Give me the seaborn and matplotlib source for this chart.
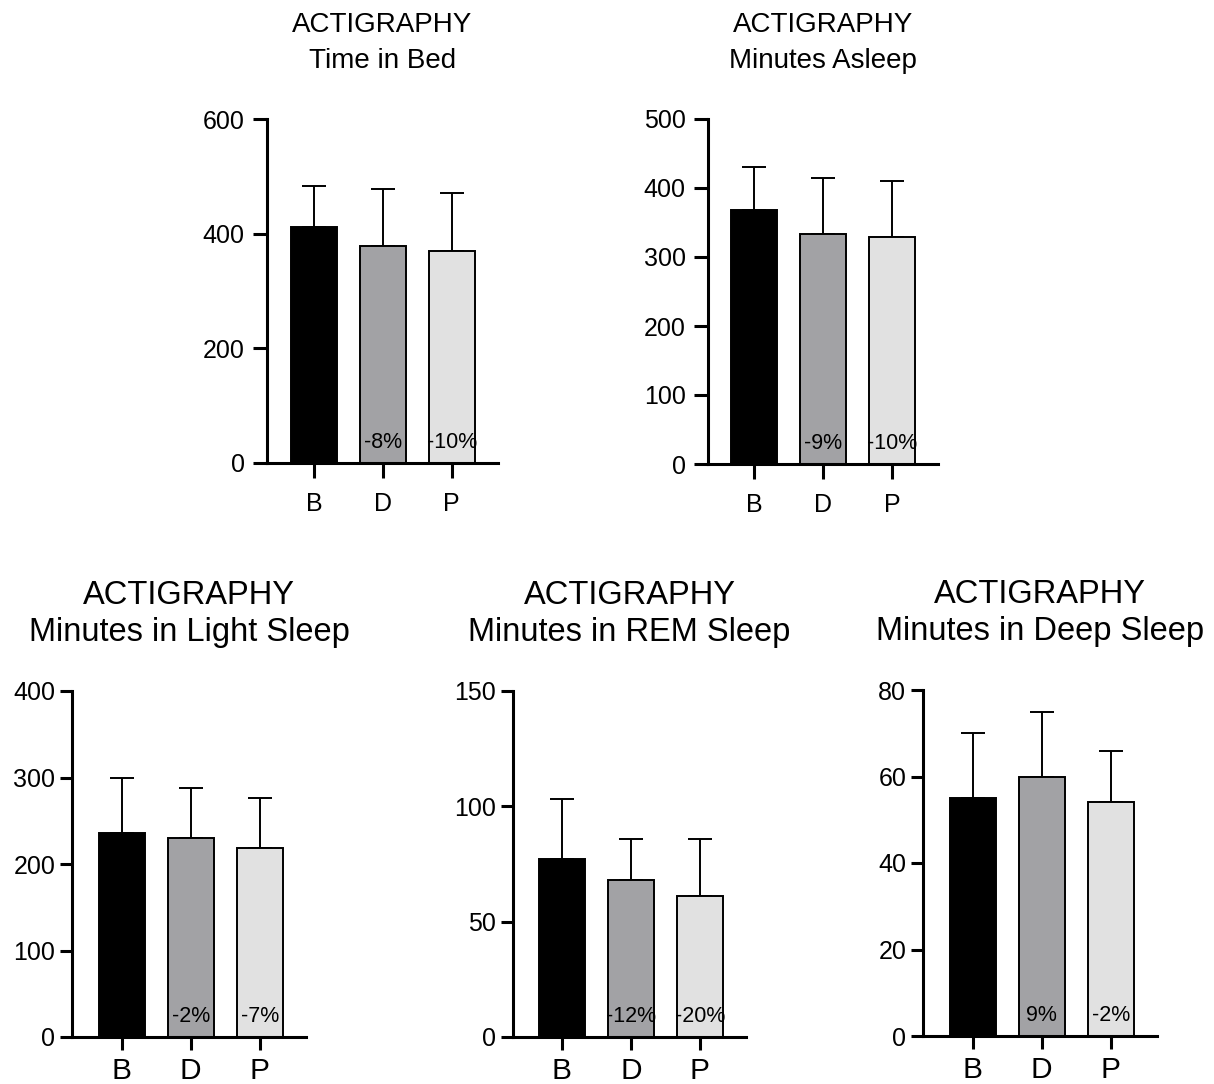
import numpy as np
import pandas as pd
import matplotlib
matplotlib.use('Agg')
import matplotlib.pyplot as plt
import seaborn as sns

# data (mean, upper SD, % change vs baseline)
groups = ['B', 'D', 'P']
titles = ['Time in Bed', 'Minutes Asleep', 'Minutes in Light Sleep',
          'Minutes in REM Sleep', 'Minutes in Deep Sleep']
bed_mean = [412, 379, 370]
bed_sd = [71, 99, 101]
asleep_mean = [368, 333, 329]
asleep_sd = [62, 81, 81]
light_mean = [236, 230, 218]
light_sd = [63, 58, 58]
rem_mean = [77, 68, 61]
rem_sd = [26, 18, 25]
deep_mean = [55, 60, 54]
deep_sd = [15, 15, 12]
bed_pct = ['', '-8%', '-10%']
asleep_pct = ['', '-9%', '-10%']
light_pct = ['', '-2%', '-7%']
rem_pct = ['', '-12%', '-20%']
deep_pct = ['', '9%', '-2%']
y_max = [600, 500, 400, 150, 80]
y_step = [200, 100, 100, 50, 20]

means = [bed_mean, asleep_mean, light_mean, rem_mean, deep_mean]
sds = [bed_sd, asleep_sd, light_sd, rem_sd, deep_sd]
pcts = [bed_pct, asleep_pct, light_pct, rem_pct, deep_pct]

sns.set_style('white')
plt.rcParams['font.family'] = ['Liberation Sans', 'DejaVu Sans']
plt.rcParams.update({'text.color': 'black', 'axes.labelcolor': 'black',
                     'xtick.color': 'black', 'ytick.color': 'black'})

colors = ['#000000', '#a2a1a6', '#e1e1e1']
W, H = 1214, 1084
fig = plt.figure(figsize=(W / 100, H / 100), dpi=100)

# axes boxes in pixels: left, right, top, bottom ; plus left xlim
boxes = [(267, 498, 119, 463, -0.68),
         (708, 938, 119, 464, -0.67),
         (72, 306, 691, 1037, -0.72),
         (513, 746, 691, 1037, -0.71),
         (923, 1157, 690, 1036, -0.72)]

lw = 2.2
for k, (l, r, t, b, x0) in enumerate(boxes):
    top_row = k < 2
    ax = fig.add_axes([l / W, 1 - b / H, (r - l) / W, (b - t) / H])
    df = pd.DataFrame({'group': groups, 'value': means[k]})
    sns.barplot(data=df, x='group', y='value', hue='group', palette=colors,
                edgecolor='black', linewidth=1.4, width=0.667, legend=False,
                ax=ax, errorbar=None, zorder=2)
    ax.errorbar(range(3), means[k], yerr=[np.zeros(3), sds[k]], fmt='none',
                ecolor='black', elinewidth=1.4, capsize=8.3, capthick=1.4, zorder=1)
    for i, txt in enumerate(pcts[k]):
        if txt:
            ax.annotate(txt, xy=(i, 0), xytext=(0, 11), textcoords='offset points',
                        ha='center', va='baseline', fontsize=15.5, zorder=3)
    ax.set_xlim(x0, 2.67)
    ax.set_ylim(0, y_max[k])
    ax.set_yticks(np.arange(0, y_max[k] + 1, y_step[k]))
    ax.set_xlabel('')
    ax.set_ylabel('')
    sns.despine(ax=ax)
    for s in ['left', 'bottom']:
        ax.spines[s].set_linewidth(lw)
        ax.spines[s].set_color('black')
    ax.tick_params(axis='y', length=10 if top_row else 9, width=lw, labelsize=18,
                   pad=6 if top_row else 3, direction='out', left=True)
    ax.tick_params(axis='x', length=11 if top_row else 9.5, width=lw,
                   labelsize=18 if top_row else 21.5, pad=10 if top_row else 5,
                   direction='out', bottom=True)
    if top_row:
        ax.set_title('ACTIGRAPHY\n' + titles[k], fontsize=20, pad=37, linespacing=1.47)
    else:
        ax.set_title('ACTIGRAPHY\n' + titles[k], fontsize=23.5, pad=36, linespacing=1.25)

fig.savefig('out.png', dpi=100)
